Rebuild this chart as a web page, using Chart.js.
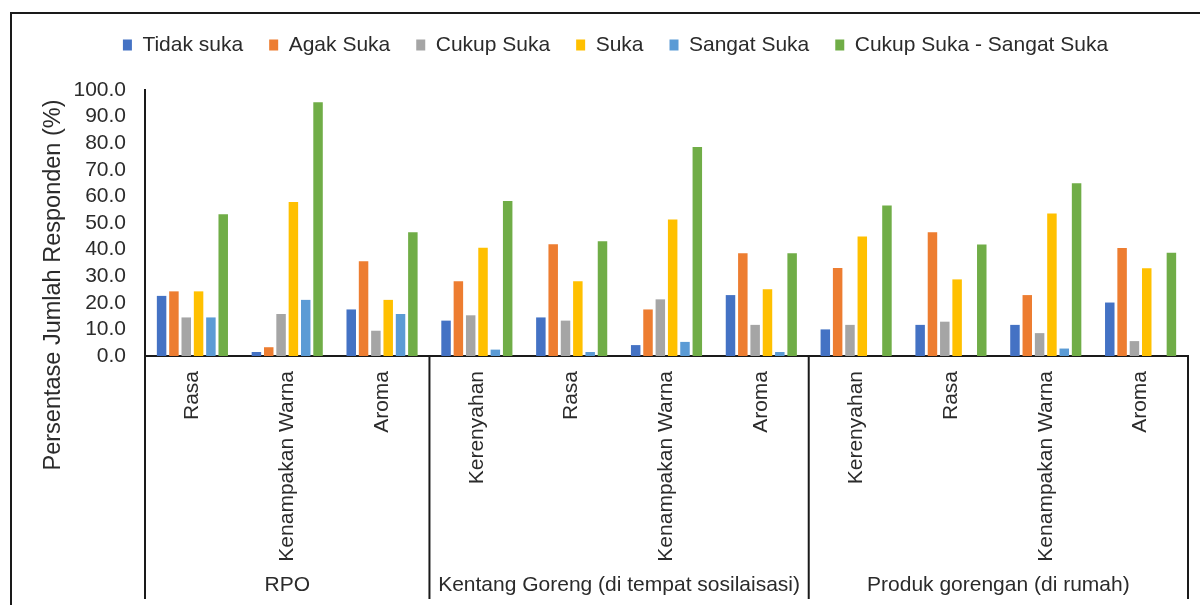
<!DOCTYPE html>
<html>
<head>
<meta charset="utf-8">
<script src="https://cdn.jsdelivr.net/npm/chart.js@4.4.1/dist/chart.umd.min.js"></script>
<style>
  html, body { margin: 0; padding: 0; background: #fff; }
  #wrap { width: 1200px; height: 605px; position: relative; }
</style>
</head>
<body>
<div id="wrap"><canvas id="chart" width="1200" height="605"></canvas></div>
<script>
// categories (inner axis) and their groups (outer axis)
const categories = ['Rasa', 'Kenampakan Warna', 'Aroma',
    'Kerenyahan', 'Rasa', 'Kenampakan Warna', 'Aroma',
    'Kerenyahan', 'Rasa', 'Kenampakan Warna', 'Aroma'];
const groups = ['RPO', 'Kentang Goreng (di tempat sosilaisasi)', 'Produk gorengan (di rumah)'];
const groupSizes = [3, 4, 4];

// series values (%)
const tidakSuka   = [22.6, 1.5, 17.5, 13.3, 14.5, 4.1, 22.9, 10.0, 11.7, 11.7, 20.1];
const agakSuka    = [24.3, 3.3, 35.6, 28.1, 42.0, 17.5, 38.6, 33.1, 46.5, 22.9, 40.6];
const cukupSuka   = [14.5, 15.8, 9.5, 15.3, 13.3, 21.3, 11.7, 11.7, 12.9, 8.6, 5.6];
const suka        = [24.3, 57.9, 21.1, 40.7, 28.1, 51.3, 25.1, 44.9, 28.8, 53.6, 33.0];
const sangatSuka  = [14.5, 21.1, 15.8, 2.4, 1.5, 5.3, 1.5, 0, 0, 2.8, 0];
const cukupSangat = [53.3, 95.4, 46.5, 58.3, 43.1, 78.6, 38.6, 56.6, 41.9, 64.9, 38.8];

const seriesNames = ['Tidak suka', 'Agak Suka', 'Cukup Suka', 'Suka', 'Sangat Suka', 'Cukup Suka - Sangat Suka'];
const seriesData = [tidakSuka, agakSuka, cukupSuka, suka, sangatSuka, cukupSangat];
const colors = ['#4472C4', '#ED7D31', '#A5A5A5', '#FFC000', '#5B9BD5', '#70AD47'];

const yTicks = { min: 0, max: 100, step: 10 };
const yTitle = 'Persentase Jumlah Responden (%)';

const FONT = '"Liberation Sans", Arial, sans-serif';
const TEXT = '#2b2b2b';

const datasets = seriesNames.map((name, i) => ({
    label: name,
    data: seriesData[i],
    backgroundColor: colors[i],
    borderWidth: 0,
    categoryPercentage: 0.78,
    barPercentage: 0.77
}));

// legend height fix so the plot starts where the reference does
const legendSize = {
    id: 'legendSize',
    beforeInit(chart) {
        const lg = chart.legend;
        const fit = lg.fit;
        lg.fit = function() { fit.call(this); this.height = 81.5; };
    }
};

// frame, group separators, group labels and the y title
const decorations = {
    id: 'decorations',
    afterDraw(chart) {
        const { ctx, chartArea, scales: { x } } = chart;
        const H = chart.height;
        const half = (x.getPixelForValue(1) - x.getPixelForValue(0)) / 2;
        ctx.save();
        ctx.strokeStyle = '#1a1a1a';
        ctx.lineWidth = 2;

        // outer frame (top + left)
        ctx.beginPath();
        ctx.moveTo(11, H);
        ctx.lineTo(11, 13);
        ctx.lineTo(chart.width, 13);
        ctx.stroke();

        // separators below axis
        const bounds = [0];
        groupSizes.reduce((acc, n) => { bounds.push(acc + n); return acc + n; }, 0);
        const xs = bounds.map(b => x.getPixelForValue(b) - half);
        ctx.beginPath();
        xs.forEach(px => {
            ctx.moveTo(px, chartArea.bottom);
            ctx.lineTo(px, 599);
        });
        ctx.stroke();

        // group labels
        ctx.fillStyle = TEXT;
        ctx.font = '21px ' + FONT;
        ctx.textAlign = 'center';
        ctx.textBaseline = 'middle';
        groups.forEach((g, i) => {
            ctx.fillText(g, (xs[i] + xs[i + 1]) / 2, 585);
        });

        // y axis title
        ctx.translate(54, 285);
        ctx.rotate(-Math.PI / 2);
        ctx.font = '23.5px ' + FONT;
        ctx.fillText(yTitle, 0, 0);
        ctx.restore();
    }
};

new Chart(document.getElementById('chart'), {
    type: 'bar',
    data: { labels: categories, datasets },
    options: {
        responsive: false,
        animation: false,
        layout: { padding: { left: 43, right: 12, top: 8.5, bottom: 0 } },
        scales: {
            x: {
                grid: { display: false, drawTicks: false },
                border: { display: true, color: '#1a1a1a', width: 2 },
                ticks: {
                    autoSkip: false,
                    minRotation: 90,
                    maxRotation: 90,
                    padding: 15,
                    color: TEXT,
                    font: { family: FONT, size: 21 }
                },
                afterFit(scale) { scale.height = 249; }
            },
            y: {
                min: yTicks.min,
                max: yTicks.max,
                grid: { display: false, drawTicks: false },
                border: { display: true, color: '#1a1a1a', width: 2 },
                ticks: {
                    stepSize: yTicks.step,
                    autoSkip: false,
                    padding: 19,
                    color: TEXT,
                    font: { family: FONT, size: 21 },
                    callback: v => v.toFixed(1)
                },
                afterFit(scale) { scale.width = 102; }
            }
        },
        plugins: {
            legend: {
                position: 'top',
                labels: {
                    boxWidth: 9,
                    boxHeight: 11,
                    padding: 26,
                    color: TEXT,
                    font: { family: FONT, size: 21 }
                }
            },
            tooltip: { enabled: false }
        }
    },
    plugins: [legendSize, decorations]
});
</script>
</body>
</html>
